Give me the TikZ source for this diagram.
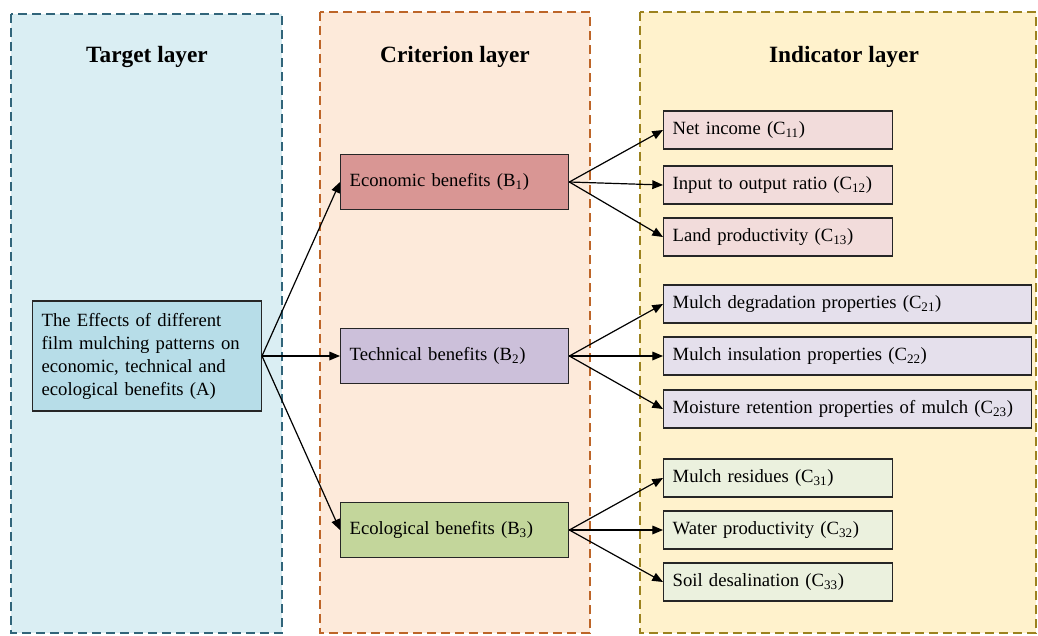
\documentclass[tikz,border=0pt]{standalone}
\usepackage{fontspec}
\setmainfont{Liberation Serif}
\usetikzlibrary{arrows.meta,positioning}
\usepackage{xcolor}
\definecolor{targetFill}{HTML}{DAEEF3}
\definecolor{targetEdge}{HTML}{31657A}
\definecolor{critFill}{HTML}{FDEADA}
\definecolor{critEdge}{HTML}{BD6528}
\definecolor{indFill}{HTML}{FFF2CC}
\definecolor{indEdge}{HTML}{9C821E}
\definecolor{goalFill}{HTML}{B7DDE8}
\definecolor{econFill}{HTML}{D99694}
\definecolor{techFill}{HTML}{CCC0DA}
\definecolor{ecoFill}{HTML}{C3D69B}
\definecolor{econLight}{HTML}{F2DCDB}
\definecolor{techLight}{HTML}{E5E0EC}
\definecolor{ecoLight}{HTML}{EBF1DE}

\begin{document}
\begin{tikzpicture}[x=0.75pt,y=-0.75pt,>={Triangle[length=8pt,width=6.5pt]},
  panel/.style={dash pattern=on 7pt off 3.5pt,line width=1.4pt},
  layertitle/.style={font=\fontsize{17.5}{20}\selectfont\bfseries},
  box/.style={draw=black!85,line width=1pt,anchor=west,align=left,inner xsep=6.75pt,font=\fontsize{14}{17.25}\selectfont},
  link/.style={->,line width=0.9pt}]
\useasboundingbox (0,0) rectangle (1038,635);
% layers
\draw[panel,draw=targetEdge,fill=targetFill] (11,14) rectangle (282,633);
\draw[panel,draw=critEdge,fill=critFill] (320,12) rectangle (590,633);
\draw[panel,draw=indEdge,fill=indFill] (640,12) rectangle (1036,633);
\node[layertitle] (tTarget) at (147,57) {Target layer};
\node[layertitle] (tCrit) at (455,57) {Criterion layer};
\node[layertitle] (tInd) at (844,57) {Indicator layer};
% goal
\node[box,fill=goalFill,text width=158pt,minimum height=82.5pt] (A) at (32,356)
  {The Effects of different\\film mulching patterns on\\economic, technical and\\ecological benefits (A)};
% criteria
\foreach \i/\y/\txt/\col in {1/182/Economic/econFill,2/356/Technical/techFill,3/530/Ecological/ecoFill}{
  \node[box,fill=\col,text width=157.5pt,minimum height=41.25pt] (b\i) at (340,\y) {\txt\ benefits (B\textsubscript{\i})};
  \draw[link] (A.east) -- (b\i.west);
}
% indicators
\foreach \n/\y/\w/\col/\txt in {11/130/158.25/econLight/Net income,12/185/158.25/econLight/Input to output ratio,13/237/158.25/econLight/Land productivity,
  21/304/262.5/techLight/Mulch degradation properties,22/356/262.5/techLight/Mulch insulation properties,23/409/262.5/techLight/Moisture retention properties of mulch,
  31/478/158.25/ecoLight/Mulch residues,32/530/158.25/ecoLight/Water productivity,33/582/158.25/ecoLight/Soil desalination}{
  \node[box,fill=\col,text width=\w pt,minimum height=28.5pt] (c\n) at (663,\y) {\txt\ (C\textsubscript{\n})};
}
\foreach \i in {1,2,3}{
  \foreach \j in {1,2,3}{
    \draw[link] (b\i.east) -- (c\i\j.west);
  }
}
\end{tikzpicture}
\end{document}
